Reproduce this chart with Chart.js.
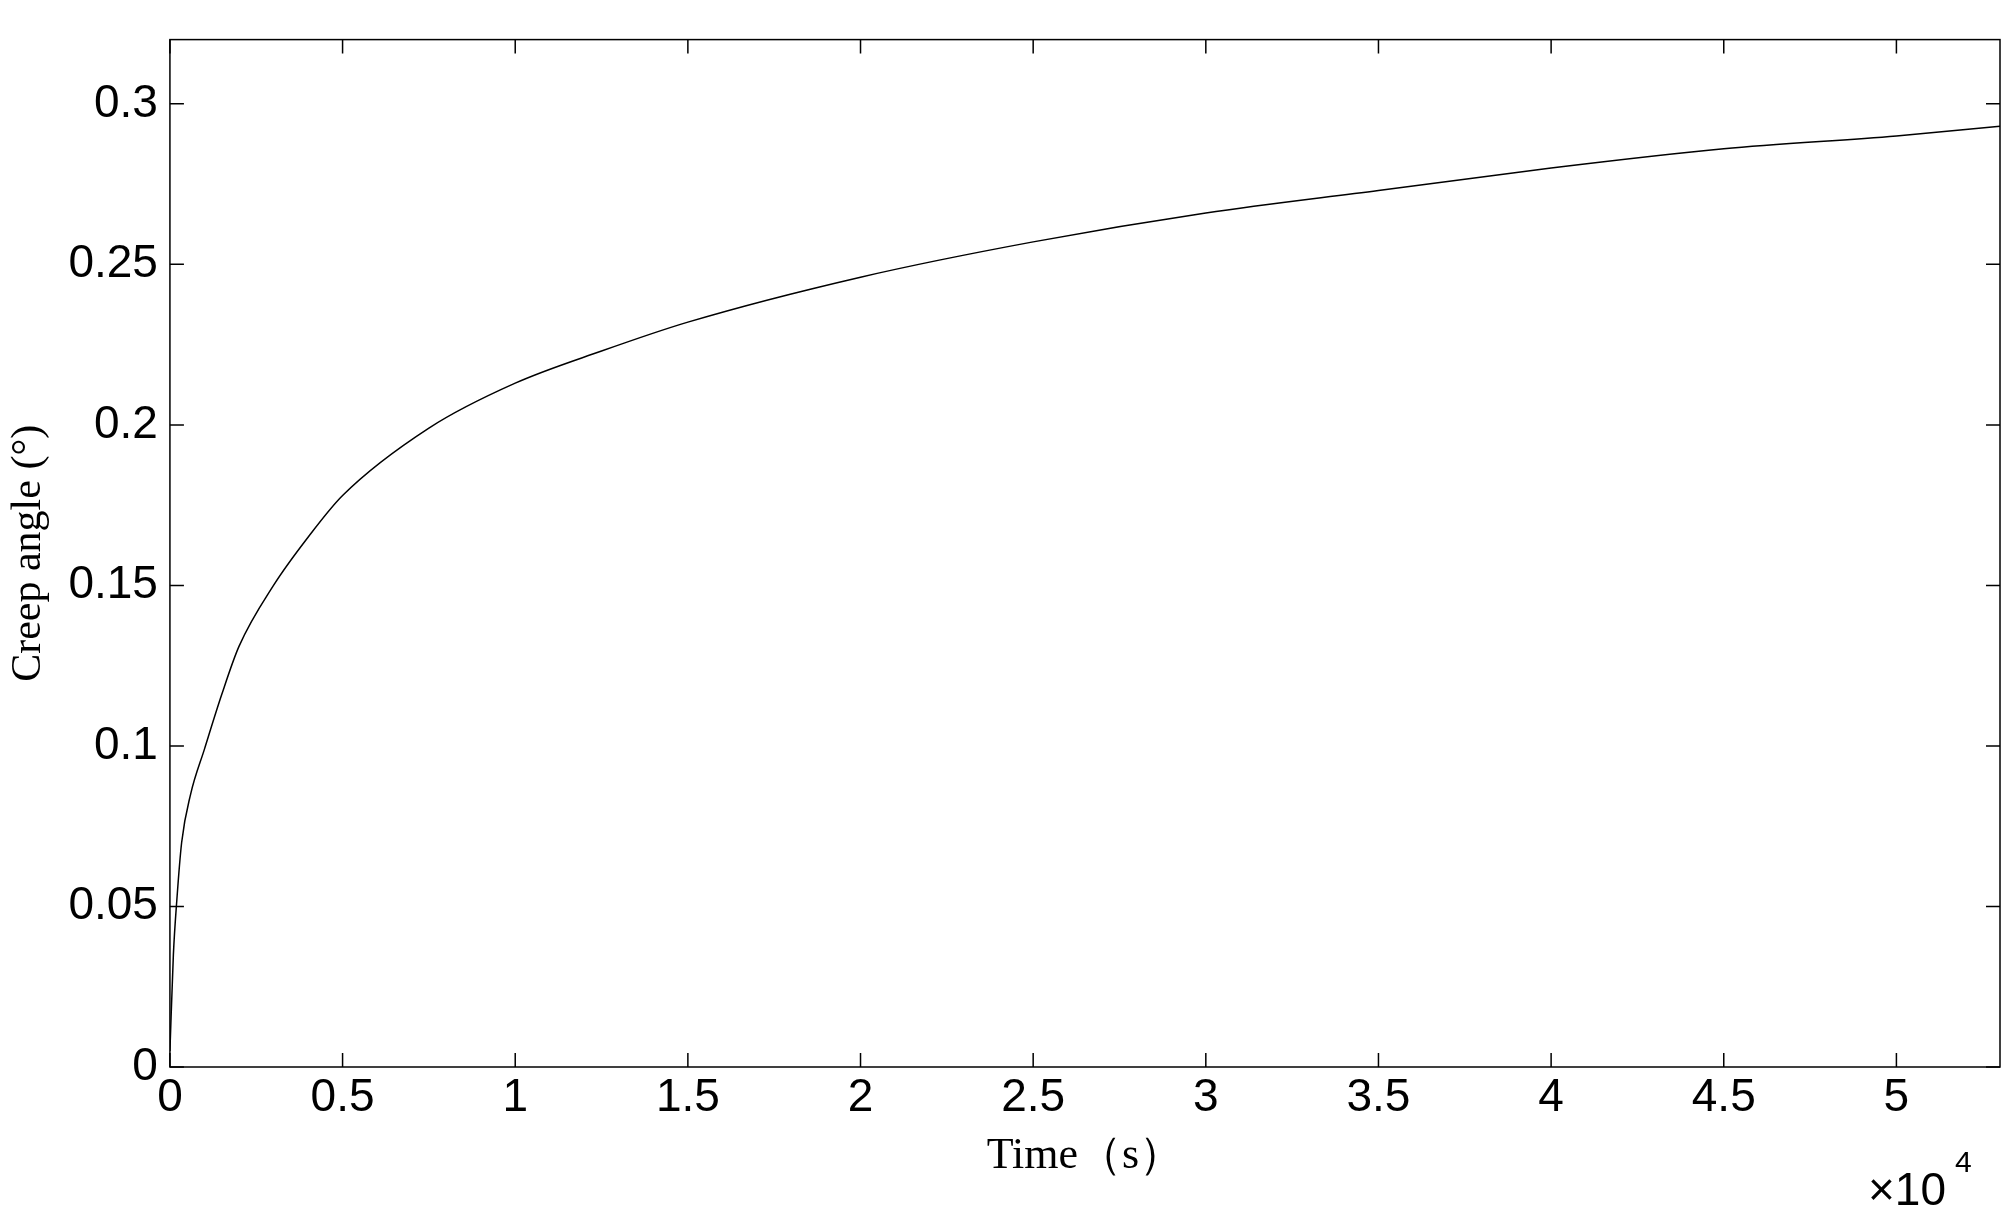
<!DOCTYPE html>
<html>
<head>
<meta charset="utf-8">
<script src="https://cdn.jsdelivr.net/npm/chart.js@4"></script>
<style>
  html, body { margin: 0; background: #fff; }
  #wrap { width: 2016px; height: 1225px; }
</style>
</head>
<body>
<div id="wrap"><canvas id="creep"></canvas></div>
<script>
  // time in units of 1e4 s, creep angle in degrees
  const timeValues = [0, 0.01, 0.02, 0.034, 0.06, 0.1, 0.15, 0.2, 0.3, 0.4, 0.5, 0.75, 1, 1.25, 1.5, 2, 2.5, 3, 3.5, 4, 4.5, 5, 5.3];
  const angleValues = [0.005, 0.035, 0.052, 0.07, 0.085, 0.099, 0.116, 0.131, 0.15, 0.165, 0.178, 0.199, 0.213, 0.223, 0.232, 0.246, 0.257, 0.266, 0.273, 0.28, 0.286, 0.29, 0.293];
  const xTicks = [0, 0.5, 1, 1.5, 2, 2.5, 3, 3.5, 4, 4.5, 5];
  const yTicks = [0, 0.05, 0.1, 0.15, 0.2, 0.25, 0.3];

  const frame = {
    id: "frame",
    afterDraw(chart) {
      const { ctx, chartArea: a, scales } = chart;
      ctx.save();
      ctx.strokeStyle = "#000";
      ctx.lineWidth = 1.5;
      ctx.strokeRect(a.left, a.top, a.right - a.left, a.bottom - a.top);
      // inward ticks, matlab style
      ctx.beginPath();
      xTicks.forEach(v => {
        const x = scales.x.getPixelForValue(v);
        ctx.moveTo(x, a.bottom); ctx.lineTo(x, a.bottom - 14);
        ctx.moveTo(x, a.top); ctx.lineTo(x, a.top + 14);
      });
      yTicks.forEach(v => {
        const y = scales.y.getPixelForValue(v);
        ctx.moveTo(a.left, y); ctx.lineTo(a.left + 14, y);
        ctx.moveTo(a.right, y); ctx.lineTo(a.right - 14, y);
      });
      ctx.stroke();
      // exponent label
      ctx.fillStyle = "#000";
      ctx.font = "46px 'Liberation Sans', Arial";
      ctx.textBaseline = "alphabetic";
      ctx.fillText("\u00d710", 1868, 1205);
      ctx.font = "30px 'Liberation Sans', Arial";
      ctx.fillText("4", 1955, 1172);
      ctx.restore();
    }
  };

  new Chart(document.getElementById("creep"), {
    type: "scatter",
    data: {
      datasets: [{
        data: timeValues.map((t, i) => ({ x: t, y: angleValues[i] })),
        showLine: true,
        borderColor: "#000",
        borderWidth: 1.5,
        pointRadius: 0,
        cubicInterpolationMode: "monotone"
      }]
    },
    options: {
      responsive: true,
      maintainAspectRatio: false,
      animation: false,
      layout: { padding: { left: 0, right: 16, top: 35, bottom: 38 } },
      plugins: { legend: { display: false }, tooltip: { enabled: false } },
      scales: {
        x: {
          type: "linear", min: 0, max: 5.3,
          afterBuildTicks: s => { s.ticks = xTicks.map(v => ({ value: v })); },
          grid: { display: false, drawTicks: false },
          border: { display: false },
          ticks: { color: "#000", padding: 4, font: { family: "'Liberation Sans', Arial", size: 46 }, callback: v => String(v) },
          title: { display: true, text: "Time\uff08s\uff09", color: "#000", padding: { top: 0 }, font: { family: "'Liberation Serif', 'Times New Roman'", size: 44 } }
        },
        y: {
          min: 0, max: 0.32,
          afterBuildTicks: s => { s.ticks = yTicks.map(v => ({ value: v })); },
          grid: { display: false, drawTicks: false },
          border: { display: false },
          ticks: { color: "#000", padding: 12, font: { family: "'Liberation Sans', Arial", size: 46 }, callback: v => String(v) },
          title: { display: true, text: "Creep angle (\u00b0)", color: "#000", padding: { bottom: 2 }, font: { family: "'Liberation Serif', 'Times New Roman'", size: 42 } }
        }
      }
    },
    plugins: [frame]
  });
</script>
</body>
</html>
